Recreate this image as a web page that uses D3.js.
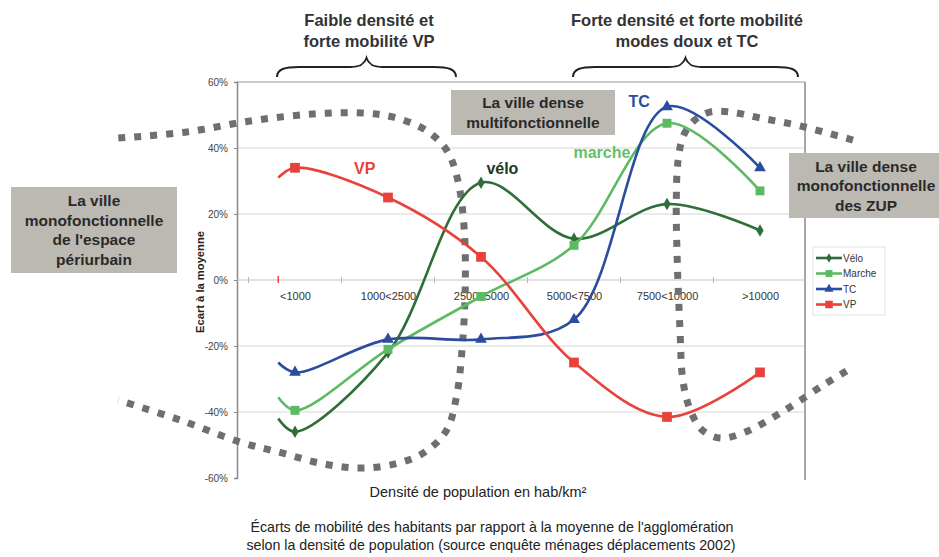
<!DOCTYPE html>
<html>
<head>
<meta charset="utf-8">
<script src="https://cdn.jsdelivr.net/npm/d3@7"></script>
<style>
  body { margin: 0; background: #fff; }
  text { font-family: "Liberation Sans", Arial, sans-serif; }
</style>
</head>
<body>
<div id="chart-area"></div>
<script>
//============================DATA============================
var categories = ["<1000", "1000<2500", "2500<5000", "5000<7500", "7500<10000", ">10000"];
var seriesNames = ["Vélo", "Marche", "TC", "VP"];
var velo   = [-46, -22, 29.5, 12.5, 23, 15];
var marche = [-39.5, -21, -5, 10.5, 47.5, 27];
var tc     = [-28, -18, -18, -12, 52.5, 34];
var vp     = [34, 25, 7, -25, -41.5, -28];
// value where each curve starts, a little left of the first category
var leadIn = [-42, -35.5, -25, 31];
var yTicks = [-60, -40, -20, 0, 20, 40, 60];

// dotted zones, in category index / percent units
var leftZoneX  = [-1.90, -1.18, -0.48, 0.19, 0.72, 1.05, 1.40, 1.63, 1.75, 1.82, 1.83, 1.80, 1.74, 1.63, 1.40, 1.11, 0.70, 0.27, -0.14, -0.59, -1.24, -1.90];
var leftZoneY  = [43.0, 44.8, 48.2, 50.3, 50.6, 49.4, 45.5, 39.4, 30.3, 15.2, -3.0, -19.7, -34.8, -45.5, -52.1, -55.5, -57.0, -55.5, -52.4, -49.1, -42.4, -36.4];
var rightZoneX = [6.00, 5.43, 5.00, 4.68, 4.46, 4.30, 4.18, 4.12, 4.10, 4.11, 4.14, 4.17, 4.25, 4.38, 4.57, 4.84, 5.27, 5.70, 6.00];
var rightZoneY = [42.4, 46.7, 49.1, 50.9, 50.9, 48.5, 43.9, 36.4, 24.2, 6.1, -15.2, -30.3, -39.4, -45.5, -47.9, -46.1, -39.4, -31.5, -26.4];

//============================GLOBALS============================
var margins = { left: 237, right: 134, top: 82, bottom: 79 };
var width = 939 - margins.left - margins.right;
var height = 557 - margins.top - margins.bottom;

var colors = { "Vélo": "#2f6e38", "Marche": "#5cbb62", "TC": "#2b4d9f", "VP": "#e8423b" };
var values = { "Vélo": velo, "Marche": marche, "TC": tc, "VP": vp };
var symbols = { "Vélo": d3.symbolDiamond, "Marche": d3.symbolSquare, "TC": d3.symbolTriangle, "VP": d3.symbolSquare };
var symSize = { "Vélo": 45, "Marche": 80, "TC": 60, "VP": 95 };

var svg = d3.select("#chart-area")
    .append("svg")
    .attr("width", 939)
    .attr("height", 557);

var g = svg.append("g")
    .attr("transform", "translate(" + margins.left + ", " + margins.top + ")");

// scales
var x = d3.scaleLinear().domain([0, categories.length - 1]).range([58, 523]);
var y = d3.scaleLinear().domain([-60, 60]).range([height, 0]);

// grid lines
g.selectAll(".grid")
    .data(yTicks.filter(function(d){ return d > -60 && d < 60 && d !== 0; }))
    .enter().append("line")
    .attr("x1", 0).attr("x2", width)
    .attr("y1", function(d){ return y(d); })
    .attr("y2", function(d){ return y(d); })
    .style("stroke", "#d6d6d6").style("stroke-width", 1);

// top and right border
g.append("line").attr("x1", 0).attr("x2", width).attr("y1", 0).attr("y2", 0)
    .style("stroke", "#9a9a9a").style("stroke-width", 1.2);
g.append("line").attr("x1", width).attr("x2", width).attr("y1", 0).attr("y2", height + 2)
    .style("stroke", "#8a8a8a").style("stroke-width", 1.5);

// y axis
var yAxisCall = d3.axisLeft(y)
    .tickValues(yTicks)
    .tickFormat(function(d){ return d + "%"; })
    .tickSize(3)
    .tickPadding(6);
var yAxis = g.append("g").attr("class", "y axis").call(yAxisCall);
yAxis.select("path").style("stroke", "#888").style("stroke-width", 1.5);
yAxis.selectAll("line").style("stroke", "#888");
yAxis.selectAll("text").style("fill", "#444").style("font-size", "10px");

// x axis along 0%
var xAxisCall = d3.axisBottom(x)
    .tickValues(d3.range(categories.length))
    .tickFormat(function(i){ return categories[i]; })
    .tickSize(0)
    .tickPadding(12);
var xAxis = g.append("g")
    .attr("class", "x axis")
    .attr("transform", "translate(0, " + y(0) + ")")
    .call(xAxisCall);
xAxis.select("path").remove();
xAxis.selectAll("text").style("fill", "#333").style("font-size", "11px");

g.append("line").attr("x1", 0).attr("x2", width).attr("y1", y(0)).attr("y2", y(0))
    .style("stroke", "#c4c4c4").style("stroke-width", 1.2);
g.selectAll(".minor-tick")
    .data(d3.range(categories.length).map(function(i){ return i - 0.5; }))
    .enter().append("line")
    .attr("x1", function(d){ return x(d); }).attr("x2", function(d){ return x(d); })
    .attr("y1", y(0) - 3).attr("y2", y(0) + 3)
    .style("stroke", "#b8b8b8");

// small red tick where the VP curve starts
g.append("line")
    .attr("x1", x(-0.18)).attr("x2", x(-0.18))
    .attr("y1", y(0) - 4).attr("y2", y(0) + 3)
    .style("stroke", colors["VP"]).style("stroke-width", 1.5);

// axis titles
g.append("text")
    .attr("transform", "rotate(-90)")
    .attr("x", -(y(0) + 2))
    .attr("y", -33)
    .attr("text-anchor", "middle")
    .attr("textLength", 102)
    .attr("lengthAdjust", "spacingAndGlyphs")
    .style("font-size", "11px").style("font-weight", "bold").style("fill", "#222")
    .text("Ecart à la moyenne");

svg.append("text")
    .attr("x", 478).attr("y", 497)
    .attr("text-anchor", "middle")
    .style("font-size", "14.5px").style("fill", "#222")
    .text("Densité de population en hab/km²");

svg.append("text")
    .attr("x", 492).attr("y", 532)
    .attr("text-anchor", "middle")
    .style("font-size", "14.2px").style("fill", "#222")
    .text("Écarts de mobilité des habitants par rapport à la moyenne de l'agglomération");
svg.append("text")
    .attr("x", 491).attr("y", 550)
    .attr("text-anchor", "middle")
    .style("font-size", "14.2px").style("fill", "#222")
    .text("selon la densité de population (source enquête ménages déplacements 2002)");

//=====================Dotted zones=====================
var zoneLine = d3.line()
    .x(function(d){ return x(d[0]); })
    .y(function(d){ return y(d[1]); })
    .curve(d3.curveCatmullRom.alpha(0.5));

[[leftZoneX, leftZoneY], [rightZoneX, rightZoneY]].forEach(function(z){
    g.append("path")
        .datum(d3.zip(z[0], z[1]))
        .attr("d", zoneLine)
        .style("fill", "none")
        .style("stroke", "#6f6f6f")
        .style("stroke-width", 7)
        .style("stroke-dasharray", "7,9");
});

//=====================Series=====================
var line = d3.line()
    .x(function(d){ return x(d[0]); })
    .y(function(d){ return y(d[1]); })
    .curve(d3.curveCatmullRom.alpha(0.5));

seriesNames.forEach(function(name, k){
    var pts = [[-0.18, leadIn[k]]].concat(values[name].map(function(v, i){ return [i, v]; }));
    g.append("path")
        .datum(pts)
        .attr("d", line)
        .style("fill", "none")
        .style("stroke", colors[name])
        .style("stroke-width", 2.6);
});

seriesNames.forEach(function(name, k){
    g.selectAll(".m-" + k)
        .data(values[name])
        .enter().append("path")
        .attr("class", "m-" + k)
        .attr("transform", function(d, i){ return "translate(" + x(i) + "," + y(d) + ")"; })
        .attr("d", d3.symbol().type(symbols[name]).size(symSize[name]))
        .style("fill", colors[name]);
});

// labels on the curves
var curveLabels = [
    { t: "VP", c: colors["VP"], xi: 0.75, v: 32 },
    { t: "vélo", c: "#1e3a22", xi: 2.23, v: 32 },
    { t: "marche", c: "#66c06b", xi: 3.3, v: 37 },
    { t: "TC", c: colors["TC"], xi: 3.7, v: 52.5 }
];
g.selectAll(".clabel")
    .data(curveLabels)
    .enter().append("text")
    .attr("x", function(d){ return x(d.xi); })
    .attr("y", function(d){ return y(d.v); })
    .attr("text-anchor", "middle")
    .style("font-size", "16px").style("font-weight", "bold")
    .style("fill", function(d){ return d.c; })
    .text(function(d){ return d.t; });

//=====================Legend=====================
var legend = svg.append("g").attr("transform", "translate(813, 247)");
legend.append("rect").attr("width", 72).attr("height", 68)
    .style("fill", "#fff").style("stroke", "#e2e2e2");
seriesNames.forEach(function(name, i){
    var ly = 11 + i * 15.5;
    legend.append("line").attr("x1", 3).attr("x2", 29).attr("y1", ly).attr("y2", ly)
        .style("stroke", colors[name]).style("stroke-width", 2.6);
    legend.append("path")
        .attr("transform", "translate(16," + ly + ")")
        .attr("d", d3.symbol().type(symbols[name]).size(symSize[name] * 0.6))
        .style("fill", colors[name]);
    legend.append("text").attr("x", 30).attr("y", ly + 3.5)
        .style("font-size", "10px").style("fill", "#333")
        .text(name);
});

//=====================Annotations=====================
function brace(x1, x2, yTop){
    var m = (x1 + x2) / 2;
    var yb = yTop + 9;
    return "M" + x1 + "," + (yb + 10) +
        " C" + x1 + "," + (yb + 2) + " " + (x1 + 8) + "," + yb + " " + (x1 + 22) + "," + yb +
        " L" + (m - 16) + "," + yb +
        " C" + (m - 6) + "," + yb + " " + (m - 2) + "," + (yb - 3) + " " + m + "," + yTop +
        " C" + (m + 2) + "," + (yb - 3) + " " + (m + 6) + "," + yb + " " + (m + 16) + "," + yb +
        " L" + (x2 - 22) + "," + yb +
        " C" + (x2 - 8) + "," + yb + " " + x2 + "," + (yb + 2) + " " + x2 + "," + (yb + 10);
}
svg.append("path").attr("d", brace(277, 456, 58))
    .style("fill", "none").style("stroke", "#222").style("stroke-width", 2);
svg.append("path").attr("d", brace(573, 798, 58))
    .style("fill", "none").style("stroke", "#222").style("stroke-width", 2);

var headers = [
    { x: 369, lines: ["Faible densité et", "forte mobilité VP"] },
    { x: 687, lines: ["Forte densité et forte mobilité", "modes doux et TC"] }
];
headers.forEach(function(h){
    h.lines.forEach(function(t, i){
        svg.append("text")
            .attr("x", h.x).attr("y", 26 + i * 21)
            .attr("text-anchor", "middle")
            .style("font-size", "16.5px").style("font-weight", "bold").style("fill", "#333")
            .text(t);
    });
});

var boxes = [
    { x: 451, y: 90, w: 164, h: 45, lines: ["La ville dense", "multifonctionnelle"] },
    { x: 789, y: 153, w: 160, h: 65, cx: 866, lines: ["La ville dense", "monofonctionnelle", "des ZUP"] },
    { x: 11, y: 187, w: 166, h: 86, lines: ["La ville", "monofonctionnelle", "de l'espace", "périurbain"] }
];
boxes.forEach(function(b){
    svg.append("rect").attr("x", b.x).attr("y", b.y).attr("width", b.w).attr("height", b.h)
        .style("fill", "#bcb9b2");
    var cx = b.cx || (b.x + b.w / 2);
    var lh = 19.5;
    var y0 = b.y + b.h / 2 - (b.lines.length - 1) * lh / 2 + 5.5;
    b.lines.forEach(function(t, i){
        svg.append("text")
            .attr("x", cx).attr("y", y0 + i * lh)
            .attr("text-anchor", "middle")
            .style("font-size", "15.5px").style("font-weight", "bold").style("fill", "#2a2a2a")
            .text(t);
    });
});
</script>
</body>
</html>
